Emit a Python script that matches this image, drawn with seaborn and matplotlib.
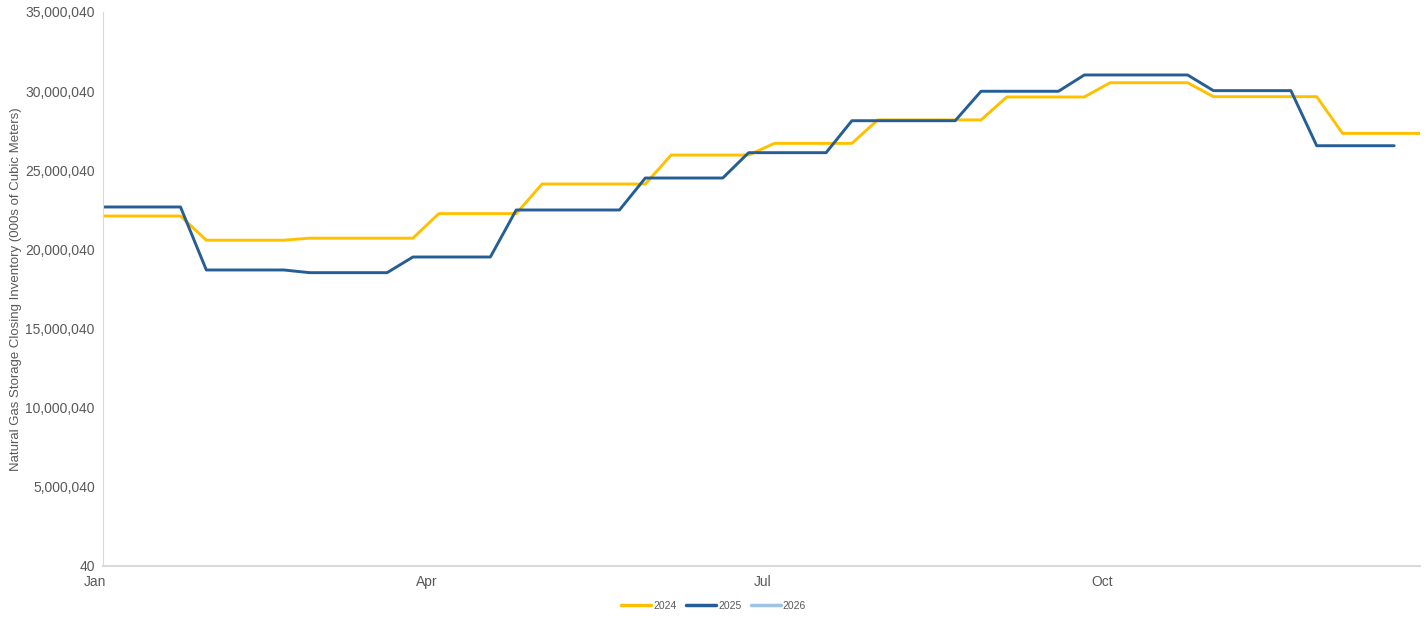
import numpy as np
import pandas as pd
import matplotlib
matplotlib.use('Agg')
import matplotlib.pyplot as plt
import matplotlib.ticker as mticker
import matplotlib.dates as mdates
from matplotlib.lines import Line2D
import seaborn as sns

# monthly closing inventory (000s m3), repeated over the weeks of each month
years = ['2024', '2025', '2026']
colors = {'2024': '#FFC000', '2025': '#255E96', '2026': '#9DC3E6'}

inv_2024 = [22110000, 20580000, 20710000, 22260000, 24130000, 25960000,
            26700000, 28180000, 29630000, 30530000, 29650000, 27330000]
weeks_2024 = [4, 4, 5, 4, 5, 4, 4, 5, 4, 4, 5, 4]

inv_2025 = [22680000, 18700000, 18530000, 19520000, 22490000, 24510000,
            26110000, 28130000, 29990000, 31020000, 30030000, 26550000]
weeks_2025 = [4, 4, 4, 4, 5, 4, 4, 5, 4, 5, 4, 4]

y_ticks = [40, 5000040, 10000040, 15000040, 20000040, 25000040, 30000040, 35000040]
x_ticks = ['2025-01-01', '2025-04-01', '2025-07-01', '2025-10-01']
x_labels = ['Jan', 'Apr', 'Jul', 'Oct']

start = pd.Timestamp('2025-01-01')
frames = []
for yr, vals, wks in [('2024', inv_2024, weeks_2024), ('2025', inv_2025, weeks_2025)]:
    weekly = np.repeat(vals, wks)
    dates = start + pd.to_timedelta(np.arange(len(weekly)) * 7, unit='D')
    frames.append(pd.DataFrame({'date': dates, 'inventory': weekly, 'year': yr}))
df = pd.concat(frames, ignore_index=True)

sns.set_style('white')
plt.rcParams['font.family'] = ['Liberation Sans', 'DejaVu Sans']

fig = plt.figure(figsize=(14.27, 6.17), dpi=100)
ax = fig.add_axes([0.0722, 0.0827, 0.9229, 0.8979])

sns.lineplot(data=df, x='date', y='inventory', hue='year', palette=colors,
             linewidth=2.1, legend=False, ax=ax)

ax.set_yticks(y_ticks)
ax.yaxis.set_major_formatter(mticker.FuncFormatter(lambda v, p: f'{int(round(v)):,}'))

# tick marks on the month starts, labels sit a little to the left of them
tick_dates = pd.to_datetime(x_ticks)
ax.set_xticks(tick_dates)
ax.set_xticklabels([])
for d, lab in zip(tick_dates, x_labels):
    ax.annotate(lab, xy=(mdates.date2num(d), 0), xycoords=ax.get_xaxis_transform(),
                xytext=(-6, -6.5), textcoords='offset points',
                ha='center', va='top', fontsize=10, color='#595959',
                annotation_clip=False)

ax.set_xlim(start, start + pd.Timedelta(days=357))
ax.set_ylim(40, 35000040)

ax.set_xlabel('')
ax.set_ylabel('Natural Gas Storage Closing Inventory (000s of Cubic Meters)',
              fontsize=9.5, color='#595959', labelpad=2)
ax.tick_params(axis='both', labelsize=10, colors='#595959', length=4, width=0.8)
ax.tick_params(axis='y', pad=2, color='#D9D9D9')
ax.tick_params(axis='x', color='#D9D9D9')

for side in ['top', 'right']:
    ax.spines[side].set_visible(False)
ax.spines['left'].set_color('#D9D9D9')
ax.spines['left'].set_linewidth(0.8)
ax.spines['bottom'].set_color('#D9D9D9')
ax.spines['bottom'].set_linewidth(1.5)

handles = [Line2D([0], [0], color=colors[y], lw=2.5) for y in years]
fig.legend(handles, years, loc='lower center', bbox_to_anchor=(0.5, -0.005), ncol=3,
           frameon=False, fontsize=7.5, handlelength=2.9, handletextpad=0.2,
           columnspacing=0.9, labelcolor='#595959')

fig.savefig('out.png', dpi=100)
